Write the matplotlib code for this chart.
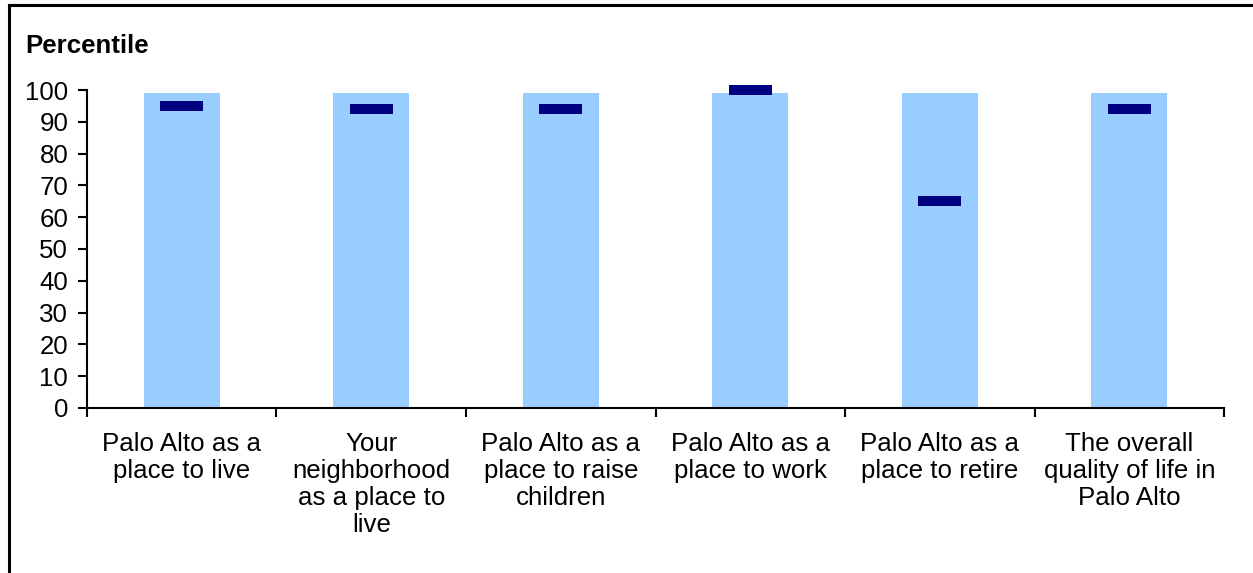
import matplotlib
matplotlib.use("Agg")
import matplotlib.pyplot as plt
from matplotlib.lines import Line2D

plt.rcParams['font.family'] = ['Liberation Sans', 'DejaVu Sans']

categories = [
    "Palo Alto as a\nplace to live",
    "Your\nneighborhood\nas a place to\nlive",
    "Palo Alto as a\nplace to raise\nchildren",
    "Palo Alto as a\nplace to work",
    "Palo Alto as a\nplace to retire",
    "The overall\nquality of life in\nPalo Alto",
]
range_top = [99, 99, 99, 99, 99, 99]
percentile = [95, 94, 94, 100, 65, 94]
yticks = [0, 10, 20, 30, 40, 50, 60, 70, 80, 90, 100]

BAR_COLOR = "#99CCFF"
MARK_COLOR = "#000080"
FS = 18.6

fig = plt.figure(figsize=(12.53, 5.73), dpi=100)
ax = fig.add_axes([0.0694, 0.2880, 0.9075, 0.5549])

x = list(range(len(categories)))
ax.bar(x, range_top, width=0.40, color=BAR_COLOR, zorder=1)
ax.hlines(percentile, [i - 0.113 for i in x], [i + 0.113 for i in x],
          colors=MARK_COLOR, linewidth=7.2, zorder=3, clip_on=False)

ax.set_xlim(-0.5, len(categories) - 0.5)
ax.set_ylim(0, 100)
ax.set_yticks(yticks)
ax.set_yticklabels([str(v) for v in yticks], fontsize=FS)

# category boundaries carry the ticks, names sit between them
ax.set_xticks([i - 0.5 for i in range(len(categories) + 1)])
ax.set_xticklabels([])
ax.set_xticks(x, minor=True)
ax.set_xticklabels(categories, minor=True, fontsize=FS, linespacing=1.17)
ax.tick_params(axis='x', which='minor', length=0, pad=17)
ax.tick_params(axis='x', which='major', length=6.5, width=1.5, direction='out')
ax.tick_params(axis='y', length=6.5, width=1.5, direction='out', pad=7)

for side in ('top', 'right'):
    ax.spines[side].set_visible(False)
for side in ('left', 'bottom'):
    ax.spines[side].set_linewidth(1.5)

fig.text(25 / 1253, 1 - 53 / 573, "Percentile", fontsize=FS, fontweight='bold',
         ha='left', va='baseline')

# outer frame along the top and left edges
fig.add_artist(Line2D([8.5 / 1253, 8.5 / 1253], [0, 1 - 4.5 / 573],
                      transform=fig.transFigure, color='black', linewidth=2.2))
fig.add_artist(Line2D([8.5 / 1253, 1], [1 - 4.5 / 573, 1 - 4.5 / 573],
                      transform=fig.transFigure, color='black', linewidth=2.2))

fig.savefig("out.png", dpi=100)
